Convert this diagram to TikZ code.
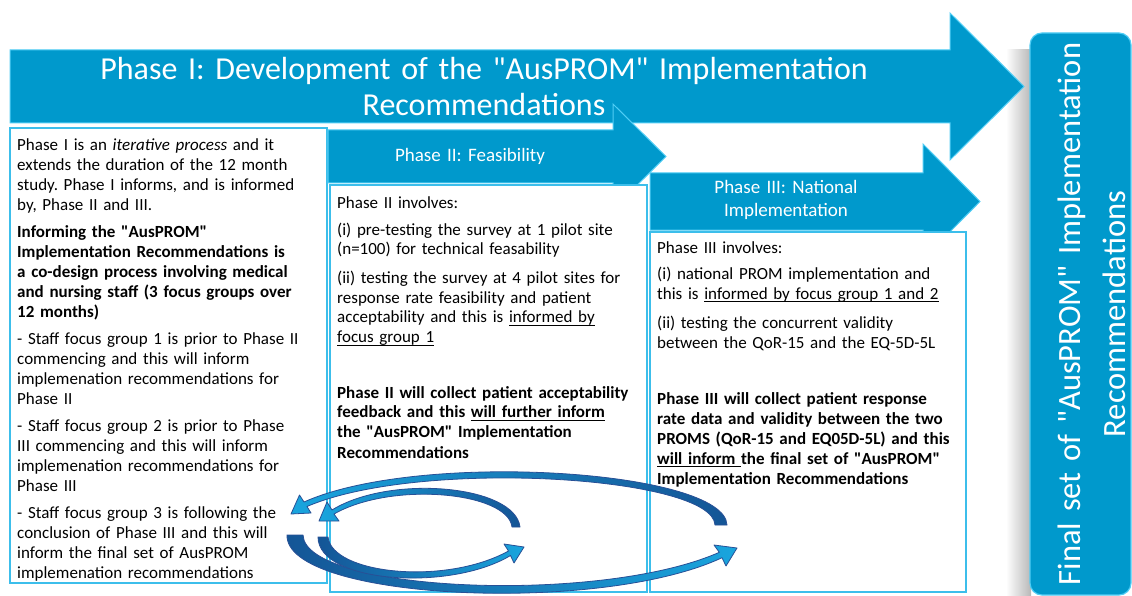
\documentclass[tikz,border=0pt]{standalone}
\usepackage{fontspec}
\setmainfont{Carlito}[Ligatures=TeXOff]
\definecolor{arrowblue}{RGB}{0,153,204}
\definecolor{bevel}{RGB}{80,205,245}
\definecolor{boxline}{RGB}{60,190,235}
\definecolor{loopdark}{RGB}{20,85,150}
\definecolor{looplight}{RGB}{25,165,222}
\definecolor{loopedge}{RGB}{40,80,150}
\newcommand\myul[1]{\leavevmode\setbox0\hbox{#1}\rlap{\rule[-2.6pt]{\wd0}{0.9pt}}\box0}
\frenchspacing
\tikzset{
  phasearrow/.style={fill=arrowblue, draw=bevel, line width=1pt, line join=miter},
  textbox/.style={fill=white, draw=boxline, line width=1.5pt},
  bodytext/.style={anchor=base west, inner sep=0pt, text width=330pt, align=left,
    font=\fontsize{17}{20}\selectfont},
  titletext/.style={anchor=base, inner sep=0pt, text width=900pt, align=center,
    text=white, font=\fontsize{32}{35.5}\selectfont},
  labeltext/.style={anchor=base, inner sep=0pt, text width=260pt, align=center,
    text=white, font=\fontsize{19}{22.5}\selectfont},
  loopstyle/.style={draw=loopedge, line width=0.8pt, line join=round}
}
\begin{document}
\begin{tikzpicture}[x=1pt,y=-1pt]
\useasboundingbox (0,0) rectangle (1132,596);
% shadow of the final box
\shade[left color=white, right color=black!28] (1006,50) rectangle (1031,596);
% Phase I arrow
\filldraw[phasearrow] (10,50) -- (950,50) -- (950,13) -- (1024,86.5) -- (950,160) -- (950,123) -- (10,123) -- cycle;
\node[titletext] (title) at (484,80) {Phase I: Development of the "AusPROM" Implementation\\Recommendations};
% Phase I box
\draw[textbox] (10,128) rectangle (327,583);
% Phase II arrow and box
\filldraw[phasearrow] (328,130) -- (613,130) -- (613,104) -- (666,156.5) -- (613,209) -- (613,183) -- (328,183) -- cycle;
\node[labeltext] (p2label) at (470,162) {Phase II: Feasibility};
\draw[textbox] (330,185) rectangle (647,592);
% Phase III arrow and box
\filldraw[phasearrow] (650,173) -- (923,173) -- (923,144) -- (980,201.5) -- (923,259) -- (923,230) -- (650,230) -- cycle;
\node[labeltext] (p3label) at (786,194) {Phase III: National\\Implementation};
\draw[textbox] (650,232) rectangle (966,592);
% final box
\filldraw[fill=arrowblue, draw=bevel, line width=1.2pt, rounded corners=12pt] (1030,33) rectangle (1131,595);
\node[rotate=90, anchor=base, inner sep=0pt, text width=570pt, align=center, text=white,
  font=\fontsize{32.5}{45}\selectfont] (final) at (1080,314) {Final set of "AusPROM" Implementation\\Recommendations};
% texts
\node[bodytext] (col1) at (17,151) {Phase I is an \textit{iterative process} and it\\
extends the duration of the 12 month\\
study. Phase I informs, and is informed\\
by, Phase II and III.\\[7pt]
\textbf{Informing the "AusPROM"}\\
\textbf{Implementation Recommendations is}\\
\textbf{a co-design process involving medical}\\
\textbf{and nursing staff (3 focus groups over}\\
\textbf{12 months)}\\[7pt]
- Staff focus group 1 is prior to Phase II\\
commencing and this will inform\\
implemenation recommendations for\\
Phase II\\[7pt]
- Staff focus group 2 is prior to Phase\\
III commencing and this will inform\\
implemenation recommendations for\\
Phase III\\[7pt]
- Staff focus group 3 is following the\\
conclusion of Phase III and this will\\
inform the final set of AusPROM\\
implemenation recommendations};
\node[bodytext] (col2) at (337,209) {Phase II involves:\\[6pt]
(i) pre-testing the survey at 1 pilot site\\
(n=100) for technical feasability\\[8pt]
(ii) testing the survey at 4 pilot sites for\\
response rate feasibility and patient\\
acceptability and this is \myul{informed by}\\
\myul{focus group 1}\\[35pt]
\textbf{Phase II will collect patient acceptability}\\
\textbf{feedback and this \myul{will further inform}}\\
\textbf{the "AusPROM" Implementation}\\
\textbf{Recommendations}};
\node[bodytext] (col3) at (657,253) {Phase III involves:\\[6pt]
(i) national PROM implementation and\\
this is \myul{informed by focus group 1 and 2}\\[9pt]
(ii) testing the concurrent validity\\
between the QoR-15 and the EQ-5D-5L\\[36pt]
\textbf{Phase III will collect patient response}\\
\textbf{rate data and validity between the two}\\
\textbf{PROMS (QoR-15 and EQ05D-5L) and this}\\
\textbf{\myul{will inform\ }the final set of "AusPROM"}\\
\textbf{Implementation Recommendations}};
% curved arrows
\shadedraw[loopstyle, left color=looplight, right color=loopdark]
  (727,525) .. controls (725,470) and (420,450) .. (304,502) -- (299.5,495) -- (291,514) -- (311,513) -- (307,506.5)
  .. controls (420,458) and (713,476) .. (715,525) -- cycle;
\shadedraw[loopstyle, left color=loopdark, right color=looplight]
  (287,535) .. controls (285,600) and (600,615) .. (722,557.7) -- (726,566) -- (737,548) -- (714,545) -- (719.3,552.3)
  .. controls (600,605) and (305,592) .. (303,535) -- cycle;
\shadedraw[loopstyle, left color=looplight, right color=loopdark]
  (520,527) .. controls (515,485) and (390,474) .. (332,510) -- (327,502) -- (319,521) -- (339,521) -- (334,514)
  .. controls (392,481) and (508,492) .. (512,527) -- cycle;
\shadedraw[loopstyle, left color=loopdark, right color=looplight]
  (318,537) .. controls (318,583) and (450,592) .. (510.5,555.5) -- (514,563) -- (524,547) -- (504,544) -- (508.5,551)
  .. controls (445,586) and (332,574) .. (328,537) -- cycle;
\end{tikzpicture}
\end{document}
